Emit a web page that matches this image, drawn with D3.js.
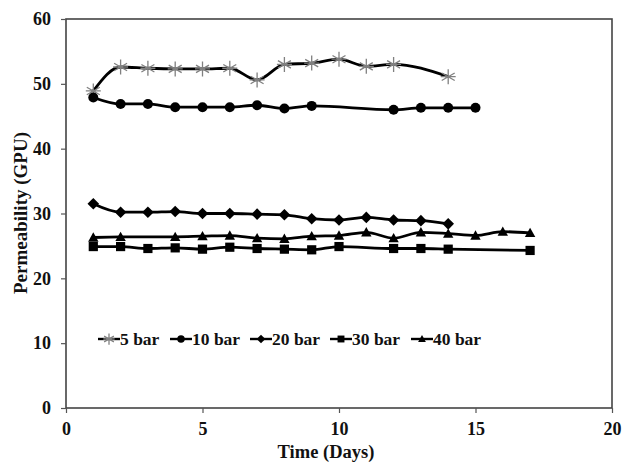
<!DOCTYPE html>
<html><head><meta charset="utf-8">
<script src="https://cdn.jsdelivr.net/npm/d3@7"></script>
<style>body{margin:0;background:#fff}svg{display:block}text{font-family:"Liberation Serif","Times New Roman",serif;font-weight:bold;fill:#111}</style>
</head><body>
<svg id="c" width="624" height="468"></svg>
<script>
const days5  = [1,2,3,4,5,6,7,8,9,10,11,12,14];
const vals5  = [48.9,52.6,52.4,52.3,52.3,52.4,50.6,53.0,53.2,53.8,52.7,53.0,51.1];
const days10 = [1,2,3,4,5,6,7,8,9,12,13,14,15];
const vals10 = [47.9,46.9,46.9,46.4,46.4,46.4,46.7,46.2,46.6,46.0,46.3,46.3,46.3];
const days20 = [1,2,3,4,5,6,7,8,9,10,11,12,13,14];
const vals20 = [31.5,30.2,30.2,30.3,30.0,30.0,29.9,29.8,29.2,29.0,29.4,29.0,28.9,28.4];
const days30 = [1,2,3,4,5,6,7,8,9,10,12,13,14,17];
const vals30 = [24.9,24.9,24.6,24.7,24.5,24.8,24.6,24.5,24.4,24.9,24.6,24.6,24.5,24.3];
const days40 = [1,2,4,5,6,7,8,9,10,11,12,13,14,15,16,17];
const vals40 = [26.3,26.4,26.4,26.5,26.6,26.2,26.1,26.5,26.6,27.1,26.2,27.1,26.9,26.6,27.2,27.0];
const seriesNames = ["5 bar","10 bar","20 bar","30 bar","40 bar"];
const xTicks = [0,5,10,15,20];
const yTicks = [0,10,20,30,40,50,60];

const svg = d3.select("#c");
const L=66, R=612, T=19, B=408;
const x = d3.scaleLinear().domain([0,20]).range([L,R]);
const y = d3.scaleLinear().domain([0,60]).range([B,T]);

svg.append("rect").attr("x",L).attr("y",T).attr("width",R-L).attr("height",B-T)
  .attr("fill","none").attr("stroke","#444").attr("stroke-width",1.6);

const ya = svg.append("g").attr("transform",`translate(${L},0)`)
  .call(d3.axisLeft(y).tickValues(yTicks).tickSize(5).tickPadding(10));
const xa = svg.append("g").attr("transform",`translate(0,${B})`)
  .call(d3.axisBottom(x).tickValues(xTicks).tickSize(5).tickPadding(9));
[ya,xa].forEach(a=>{
  a.select(".domain").remove();
  a.selectAll("line").attr("stroke","#555").attr("stroke-width",1.2);
  a.selectAll("text").attr("font-size",18).attr("font-family",null);
});

svg.append("text").attr("x",326).attr("y",458).attr("text-anchor","middle")
  .attr("font-size",18.5).text("Time (Days)");
svg.append("text").attr("transform","translate(27,213) rotate(-90)").attr("text-anchor","middle")
  .attr("font-size",19).text("Permeability (GPU)");

const series = [
  {name:seriesNames[0],d:days5,v:vals5,m:"star"},
  {name:seriesNames[1],d:days10,v:vals10,m:"circle"},
  {name:seriesNames[2],d:days20,v:vals20,m:"diamond"},
  {name:seriesNames[3],d:days30,v:vals30,m:"square"},
  {name:seriesNames[4],d:days40,v:vals40,m:"triangle"}
];

function marker(g, type, cx, cy, scale=1){
  if(type==="star"){
    const r=7.5*scale;
    const p=[];
    for(let i=0;i<3;i++){
      const a=Math.PI/2+i*Math.PI/3;
      p.push(`M${cx+r*Math.cos(a)},${cy+r*Math.sin(a)}L${cx-r*Math.cos(a)},${cy-r*Math.sin(a)}`);
    }
    p.push(`M${cx-r},${cy}L${cx+r},${cy}`);
    g.append("path").attr("d",p.join("")).attr("stroke","#808080").attr("stroke-width",1.3).attr("fill","none");
  } else if(type==="circle"){
    g.append("circle").attr("cx",cx).attr("cy",cy).attr("r",5*scale).attr("fill","#000");
  } else if(type==="diamond"){
    const r=5.8*scale;
    g.append("path").attr("d",`M${cx},${cy-r}L${cx+r},${cy}L${cx},${cy+r}L${cx-r},${cy}Z`).attr("fill","#000");
  } else if(type==="square"){
    const s=4.6*scale;
    g.append("rect").attr("x",cx-s).attr("y",cy-s).attr("width",2*s).attr("height",2*s).attr("fill","#000");
  } else if(type==="triangle"){
    const s=5.2*scale;
    g.append("path").attr("d",`M${cx},${cy-s}L${cx+s},${cy+s*0.8}L${cx-s},${cy+s*0.8}Z`).attr("fill","#000");
  }
}

const line = d3.line().x(d=>x(d[0])).y(d=>y(d[1])).curve(d3.curveMonotoneX);
const plot = svg.append("g");
series.forEach(s=>{
  const pts = s.d.map((d,i)=>[d,s.v[i]]);
  plot.append("path").datum(pts).attr("d",line).attr("fill","none")
    .attr("stroke","#000").attr("stroke-width",2.8);
});
series.forEach(s=>{
  const g = plot.append("g");
  s.d.forEach((d,i)=>marker(g,s.m,x(d),y(s.v[i])));
});

const legX=[98,170,250,330,411];
const lg = svg.append("g");
series.forEach((s,i)=>{
  const x0=legX[i], yc=339;
  lg.append("line").attr("x1",x0).attr("x2",x0+22).attr("y1",yc).attr("y2",yc)
    .attr("stroke","#000").attr("stroke-width",2.4);
  marker(lg,s.m,x0+11,yc,0.75);
  lg.append("text").attr("x",x0+22).attr("y",yc+6)
    .attr("font-size",17.5).text(s.name);
});
</script>
</body></html>
